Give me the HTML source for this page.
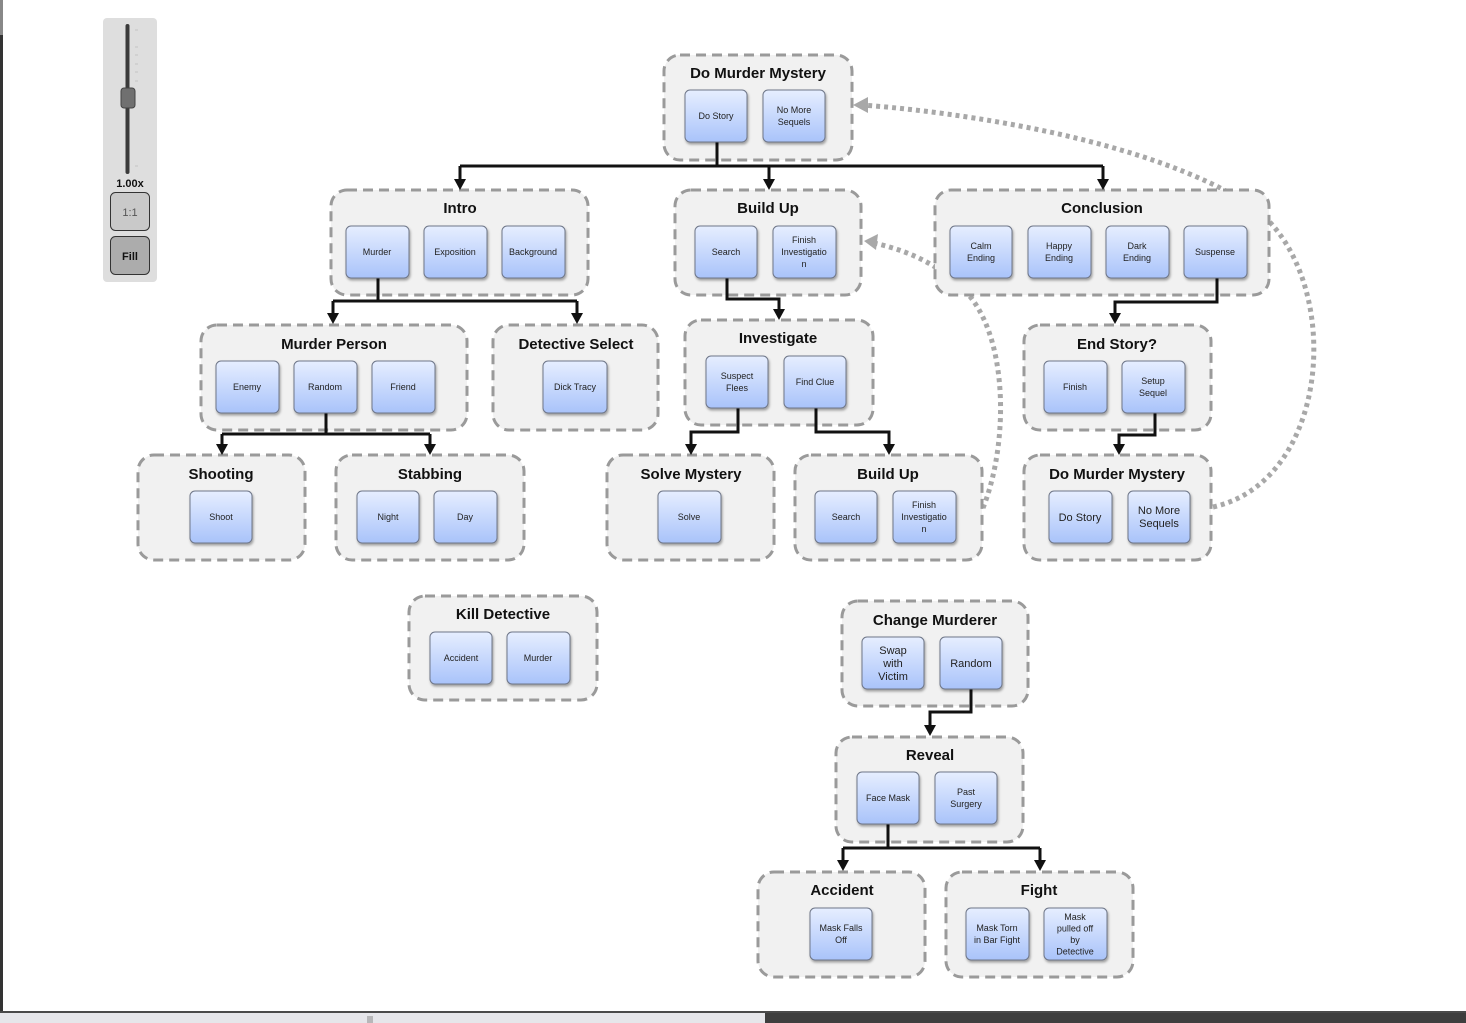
<!DOCTYPE html>
<html><head><meta charset="utf-8">
<style>
html,body{margin:0;padding:0;background:#fff;width:1466px;height:1023px;overflow:hidden}
svg{display:block}
.g{fill:#f1f1f1;stroke:#9a9a9a;stroke-width:3;stroke-dasharray:10 6}
.n{fill:url(#ng);stroke:#6e7688;stroke-width:1}
.t{font-family:"Liberation Sans",sans-serif;font-weight:bold;font-size:15px;fill:#111;text-anchor:middle}
.s{font-family:"Liberation Sans",sans-serif;font-size:9px;fill:#222;text-anchor:middle}
.m{font-family:"Liberation Sans",sans-serif;font-size:11px;fill:#222;text-anchor:middle}
.c{fill:none;stroke:#111;stroke-width:3}
.d{fill:none;stroke:#a8a8a8;stroke-width:5;stroke-dasharray:4 4}
</style></head><body>
<svg width="1466" height="1023" xmlns="http://www.w3.org/2000/svg">
<defs>
<linearGradient id="ng" x1="0" y1="0" x2="0" y2="1"><stop offset="0" stop-color="#e6eeff"/><stop offset="1" stop-color="#a9c3fa"/></linearGradient>
<filter id="sh" x="-10%" y="-10%" width="130%" height="130%"><feDropShadow dx="1" dy="2" stdDeviation="1.2" flood-color="#000" flood-opacity="0.35"/></filter>
<marker id="a" viewBox="0 0 10 10" refX="5" refY="10" markerWidth="4" markerHeight="4" orient="auto-start-reverse"></marker>
</defs>
<rect x="0" y="0" width="3" height="1012" fill="#333"/>
<rect x="0" y="0" width="3" height="35" fill="#888"/>

<!-- dotted curves -->
<path class="d" d="M1213,507 C1335,480 1345,270 1250,205 C1150,140 960,112 862,105"/>
<polygon points="853,105 868,97 868,113" fill="#a8a8a8"/>
<path class="d" d="M983,508 C1010,440 1008,330 962,288 C935,262 905,250 874,243"/>
<polygon points="864,241 878,234 876,250" fill="#a8a8a8"/>

<!-- groups -->
<rect class="g" x="664" y="55" width="188" height="105" rx="16"/>
<rect class="g" x="331" y="190" width="257" height="105" rx="16"/>
<rect class="g" x="675" y="190" width="186" height="105" rx="16"/>
<rect class="g" x="935" y="190" width="334" height="105" rx="16"/>
<rect class="g" x="201" y="325" width="266" height="105" rx="16"/>
<rect class="g" x="493" y="325" width="165" height="105" rx="16"/>
<rect class="g" x="685" y="320" width="188" height="105" rx="16"/>
<rect class="g" x="1024" y="325" width="187" height="105" rx="16"/>
<rect class="g" x="138" y="455" width="167" height="105" rx="16"/>
<rect class="g" x="336" y="455" width="188" height="105" rx="16"/>
<rect class="g" x="607" y="455" width="167" height="105" rx="16"/>
<rect class="g" x="795" y="455" width="187" height="105" rx="16"/>
<rect class="g" x="1024" y="455" width="187" height="105" rx="16"/>
<rect class="g" x="409" y="596" width="188" height="104" rx="16"/>
<rect class="g" x="842" y="601" width="186" height="105" rx="16"/>
<rect class="g" x="836" y="737" width="187" height="105" rx="16"/>
<rect class="g" x="758" y="872" width="167" height="105" rx="16"/>
<rect class="g" x="946" y="872" width="187" height="105" rx="16"/>

<!-- titles -->
<text class="t" x="758" y="78">Do Murder Mystery</text>
<text class="t" x="460" y="213">Intro</text>
<text class="t" x="768" y="213">Build Up</text>
<text class="t" x="1102" y="213">Conclusion</text>
<text class="t" x="334" y="349">Murder Person</text>
<text class="t" x="576" y="349">Detective Select</text>
<text class="t" x="778" y="343">Investigate</text>
<text class="t" x="1117" y="349">End Story?</text>
<text class="t" x="221" y="479">Shooting</text>
<text class="t" x="430" y="479">Stabbing</text>
<text class="t" x="691" y="479">Solve Mystery</text>
<text class="t" x="888" y="479">Build Up</text>
<text class="t" x="1117" y="479">Do Murder Mystery</text>
<text class="t" x="503" y="619">Kill Detective</text>
<text class="t" x="935" y="625">Change Murderer</text>
<text class="t" x="930" y="760">Reveal</text>
<text class="t" x="842" y="895">Accident</text>
<text class="t" x="1039" y="895">Fight</text>

<!-- connectors -->
<g>
<path class="c" d="M717,142 V166 M460,166 H1103 M460,166 V182 M769,166 V182 M1103,166 V182"/>
<path class="c" d="M378,278 V301 M333,301 H577 M333,301 V316 M577,301 V316"/>
<path class="c" d="M727,278 V299 H779 V312"/>
<path class="c" d="M326,413 V434 M222,434 H430 M222,434 V447 M430,434 V447"/>
<path class="c" d="M738,408 V432 H691 V447"/>
<path class="c" d="M816,408 V432 H889 V447"/>
<path class="c" d="M1217,278 V302 H1115 V316"/>
<path class="c" d="M1155,413 V435 H1119 V447"/>
<path class="c" d="M971,689 V712 H930 V728"/>
<path class="c" d="M888,824 V848 M843,848 H1040 M843,848 V863 M1040,848 V863"/>
</g>
<g fill="#111">
<polygon points="454,179 466,179 460,190"/>
<polygon points="763,179 775,179 769,190"/>
<polygon points="1097,179 1109,179 1103,190"/>
<polygon points="327,313 339,313 333,324"/>
<polygon points="571,313 583,313 577,324"/>
<polygon points="773,309 785,309 779,320"/>
<polygon points="216,444 228,444 222,455"/>
<polygon points="424,444 436,444 430,455"/>
<polygon points="685,444 697,444 691,455"/>
<polygon points="883,444 895,444 889,455"/>
<polygon points="1109,313 1121,313 1115,324"/>
<polygon points="1113,444 1125,444 1119,455"/>
<polygon points="924,725 936,725 930,736"/>
<polygon points="837,860 849,860 843,871"/>
<polygon points="1034,860 1046,860 1040,871"/>
</g>

<!-- nodes -->
<g filter="url(#sh)">
<rect class="n" x="685" y="90" width="62" height="52" rx="5"/>
<rect class="n" x="763" y="90" width="62" height="52" rx="5"/>
<rect class="n" x="346" y="226" width="63" height="52" rx="5"/>
<rect class="n" x="424" y="226" width="63" height="52" rx="5"/>
<rect class="n" x="502" y="226" width="63" height="52" rx="5"/>
<rect class="n" x="695" y="226" width="62" height="52" rx="5"/>
<rect class="n" x="773" y="226" width="63" height="52" rx="5"/>
<rect class="n" x="950" y="226" width="62" height="52" rx="5"/>
<rect class="n" x="1028" y="226" width="63" height="52" rx="5"/>
<rect class="n" x="1106" y="226" width="63" height="52" rx="5"/>
<rect class="n" x="1184" y="226" width="63" height="52" rx="5"/>
<rect class="n" x="216" y="361" width="63" height="52" rx="5"/>
<rect class="n" x="294" y="361" width="63" height="52" rx="5"/>
<rect class="n" x="372" y="361" width="63" height="52" rx="5"/>
<rect class="n" x="543" y="361" width="64" height="52" rx="5"/>
<rect class="n" x="706" y="356" width="62" height="52" rx="5"/>
<rect class="n" x="784" y="356" width="62" height="52" rx="5"/>
<rect class="n" x="1044" y="361" width="63" height="52" rx="5"/>
<rect class="n" x="1122" y="361" width="63" height="52" rx="5"/>
<rect class="n" x="190" y="491" width="62" height="52" rx="5"/>
<rect class="n" x="357" y="491" width="62" height="52" rx="5"/>
<rect class="n" x="434" y="491" width="63" height="52" rx="5"/>
<rect class="n" x="658" y="491" width="63" height="52" rx="5"/>
<rect class="n" x="815" y="491" width="62" height="52" rx="5"/>
<rect class="n" x="893" y="491" width="63" height="52" rx="5"/>
<rect class="n" x="1049" y="491" width="63" height="52" rx="5"/>
<rect class="n" x="1128" y="491" width="62" height="52" rx="5"/>
<rect class="n" x="430" y="632" width="62" height="52" rx="5"/>
<rect class="n" x="507" y="632" width="63" height="52" rx="5"/>
<rect class="n" x="862" y="637" width="62" height="52" rx="5"/>
<rect class="n" x="940" y="637" width="62" height="52" rx="5"/>
<rect class="n" x="857" y="772" width="62" height="52" rx="5"/>
<rect class="n" x="935" y="772" width="62" height="52" rx="5"/>
<rect class="n" x="810" y="908" width="62" height="52" rx="5"/>
<rect class="n" x="966" y="908" width="63" height="52" rx="5"/>
<rect class="n" x="1044" y="908" width="63" height="52" rx="5"/>
</g>

<!-- node labels -->
<text class="s" x="716" y="119">Do Story</text>
<text class="s" x="794" y="113">No More<tspan x="794" dy="12">Sequels</tspan></text>
<text class="s" x="377" y="255">Murder</text>
<text class="s" x="455" y="255">Exposition</text>
<text class="s" x="533" y="255">Background</text>
<text class="s" x="726" y="255">Search</text>
<text class="s" x="804" y="243">Finish<tspan x="804" dy="12">Investigatio</tspan><tspan x="804" dy="12">n</tspan></text>
<text class="s" x="981" y="249">Calm<tspan x="981" dy="12">Ending</tspan></text>
<text class="s" x="1059" y="249">Happy<tspan x="1059" dy="12">Ending</tspan></text>
<text class="s" x="1137" y="249">Dark<tspan x="1137" dy="12">Ending</tspan></text>
<text class="s" x="1215" y="255">Suspense</text>
<text class="s" x="247" y="390">Enemy</text>
<text class="s" x="325" y="390">Random</text>
<text class="s" x="403" y="390">Friend</text>
<text class="s" x="575" y="390">Dick Tracy</text>
<text class="s" x="737" y="379">Suspect<tspan x="737" dy="12">Flees</tspan></text>
<text class="s" x="815" y="385">Find Clue</text>
<text class="s" x="1075" y="390">Finish</text>
<text class="s" x="1153" y="384">Setup<tspan x="1153" dy="12">Sequel</tspan></text>
<text class="s" x="221" y="520">Shoot</text>
<text class="s" x="388" y="520">Night</text>
<text class="s" x="465" y="520">Day</text>
<text class="s" x="689" y="520">Solve</text>
<text class="s" x="846" y="520">Search</text>
<text class="s" x="924" y="508">Finish<tspan x="924" dy="12">Investigatio</tspan><tspan x="924" dy="12">n</tspan></text>
<text class="m" x="1080" y="521">Do Story</text>
<text class="m" x="1159" y="514">No More<tspan x="1159" dy="13">Sequels</tspan></text>
<text class="s" x="461" y="661">Accident</text>
<text class="s" x="538" y="661">Murder</text>
<text class="m" x="893" y="654">Swap<tspan x="893" dy="13">with</tspan><tspan x="893" dy="13">Victim</tspan></text>
<text class="m" x="971" y="667">Random</text>
<text class="s" x="888" y="801">Face Mask</text>
<text class="s" x="966" y="795">Past<tspan x="966" dy="12">Surgery</tspan></text>
<text class="s" x="841" y="931">Mask Falls<tspan x="841" dy="12">Off</tspan></text>
<text class="s" x="997" y="931">Mask Torn<tspan x="997" dy="12">in Bar Fight</tspan></text>
<text class="s" x="1075" y="920">Mask<tspan x="1075" dy="11.5">pulled off</tspan><tspan x="1075" dy="11.5">by</tspan><tspan x="1075" dy="11.5">Detective</tspan></text>

<!-- zoom control -->
<rect x="103" y="18" width="54" height="264" rx="4" fill="#dedede"/>
<rect x="125.5" y="24" width="4" height="150" rx="2" fill="#3a3a3a"/>
<g stroke="#c4c4c4" stroke-width="1"><line x1="135" y1="30" x2="138" y2="30"/><line x1="135" y1="47" x2="138" y2="47"/><line x1="135" y1="55" x2="138" y2="55"/><line x1="135" y1="64" x2="138" y2="64"/><line x1="135" y1="72" x2="138" y2="72"/><line x1="135" y1="81" x2="138" y2="81"/><line x1="135" y1="166" x2="138" y2="166"/></g>
<rect x="121" y="88" width="14" height="20" rx="3" fill="#707070" stroke="#444"/>
<text x="130" y="187" font-family="Liberation Sans,sans-serif" font-weight="bold" font-size="11" fill="#111" text-anchor="middle">1.00x</text>
<rect x="110.5" y="192.5" width="39" height="38" rx="5" fill="#c9c9c9" stroke="#333"/>
<text x="130" y="216" font-family="Liberation Sans,sans-serif" font-size="11" fill="#555" text-anchor="middle">1:1</text>
<rect x="110.5" y="236.5" width="39" height="38" rx="5" fill="#acacac" stroke="#333"/>
<text x="130" y="260" font-family="Liberation Sans,sans-serif" font-weight="bold" font-size="11" fill="#111" text-anchor="middle">Fill</text>

<!-- bottom bar -->
<rect x="0" y="1011" width="1466" height="2" fill="#4a4a4a"/>
<rect x="0" y="1013" width="765" height="10" fill="#e6e6ea"/>
<rect x="765" y="1013" width="701" height="10" fill="#3e3e3e"/>
<g stroke="#888"><line x1="368" y1="1016" x2="368" y2="1023"/><line x1="370" y1="1016" x2="370" y2="1023"/><line x1="372" y1="1016" x2="372" y2="1023"/></g>
</svg>
</body></html>
